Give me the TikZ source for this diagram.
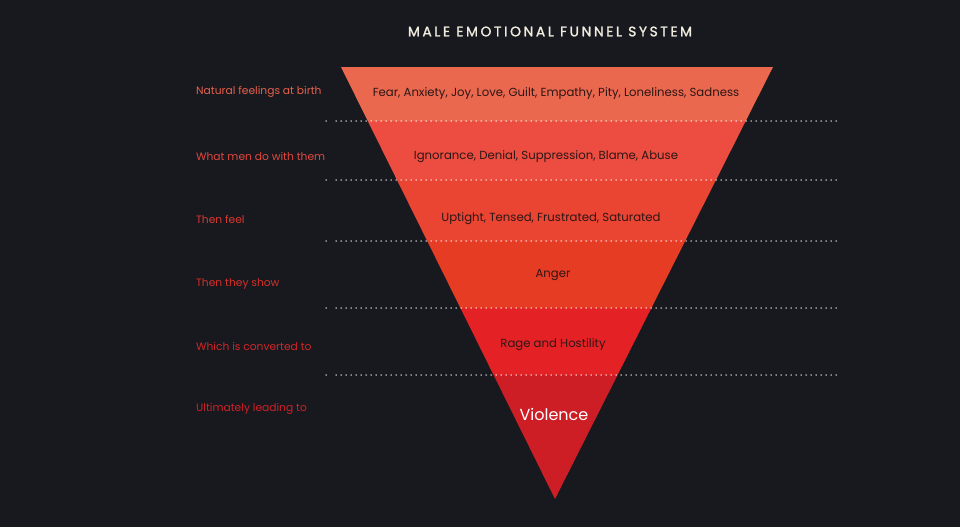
\documentclass[tikz,border=0pt]{standalone}
\usepackage{fontspec}
\setmainfont{Poppins}
\newfontfamily\titlefont[LetterSpace=19,FakeBold=1.5]{Poppins}
\definecolor{bg}{RGB}{24,24,31}
\definecolor{bandA}{RGB}{234,104,78}
\definecolor{bandB}{RGB}{236,77,64}
\definecolor{bandC}{RGB}{234,68,50}
\definecolor{bandD}{RGB}{231,60,36}
\definecolor{bandE}{RGB}{228,34,38}
\definecolor{bandF}{RGB}{205,30,38}
\definecolor{labA}{RGB}{232,98,76}
\definecolor{labB}{RGB}{226,72,62}
\definecolor{labC}{RGB}{218,58,48}
\definecolor{labD}{RGB}{215,48,40}
\definecolor{labE}{RGB}{212,38,38}
\definecolor{labF}{RGB}{207,34,38}
\definecolor{titlecol}{RGB}{240,236,222}
\definecolor{bandtext}{RGB}{45,22,22}
\begin{document}
\begin{tikzpicture}[x=1pt,y=-1pt,
  lab/.style={anchor=west,font=\fontsize{10.7}{12}\selectfont,inner sep=0pt},
  bandlab/.style={anchor=center,font=\fontsize{11.7}{13}\selectfont,text=bandtext,inner sep=0pt},
  dotline/.style={draw=white,line width=1.5pt,dash pattern=on 0pt off 5pt,line cap=round}]
\fill[bg] (0,0) rectangle (960,527);
\useasboundingbox (0,0) rectangle (960,527);
\coordinate (tl) at (341,67);
\coordinate (tr) at (773,67);
\coordinate (ap) at (555,499);
\begin{scope}
\clip (tl) -- (tr) -- (ap) -- cycle;
\fill[bandA] (300,60) rectangle (800,121);
\fill[bandB] (300,121) rectangle (800,180);
\fill[bandC] (300,180) rectangle (800,241);
\fill[bandD] (300,241) rectangle (800,308);
\fill[bandE] (300,308) rectangle (800,375);
\fill[bandF] (300,375) rectangle (800,505);
\end{scope}
\node[font=\titlefont\fontsize{13.8}{15}\selectfont,text=titlecol] (title) at (550,31.5) {MALE EMOTIONAL FUNNEL SYSTEM};
\foreach \yy/\nm in {121/a,180/b,241/c,308/d,375/e}{
  \coordinate (d0\nm) at (326,\yy);
  \coordinate (d1\nm) at (336,\yy);
  \coordinate (d2\nm) at (836,\yy);
  \draw[dotline] (d0\nm) -- ++(0.1,0);
  \draw[dotline] (d1\nm) -- (d2\nm);
}
\node[lab,text=labA] (l1) at (196,92) {Natural feelings at birth};
\node[lab,text=labB] (l2) at (196,156) {What men do with them};
\node[lab,text=labC] (l3) at (196,219) {Then feel};
\node[lab,text=labD] (l4) at (196,284) {Then they show};
\node[lab,text=labE] (l5) at (196,346) {Which is converted to};
\node[lab,text=labF] (l6) at (196,409) {Ultimately leading to};
\node[bandlab] (b1) at (556,93.5) {Fear, Anxiety, Joy, Love, Guilt, Empathy, Pity, Loneliness, Sadness};
\node[bandlab] (b2) at (546,156.5) {Ignorance, Denial, Suppression, Blame, Abuse};
\node[bandlab] (b3) at (551,218.5) {Uptight, Tensed, Frustrated, Saturated};
\node[bandlab] (b4) at (553,275.5) {Anger};
\node[bandlab] (b5) at (553,344.5) {Rage and Hostility};
\node[anchor=center,inner sep=0pt,font=\fontsize{16}{18}\selectfont,text=white] (b6) at (554,414.5) {Violence};
\end{tikzpicture}
\end{document}
